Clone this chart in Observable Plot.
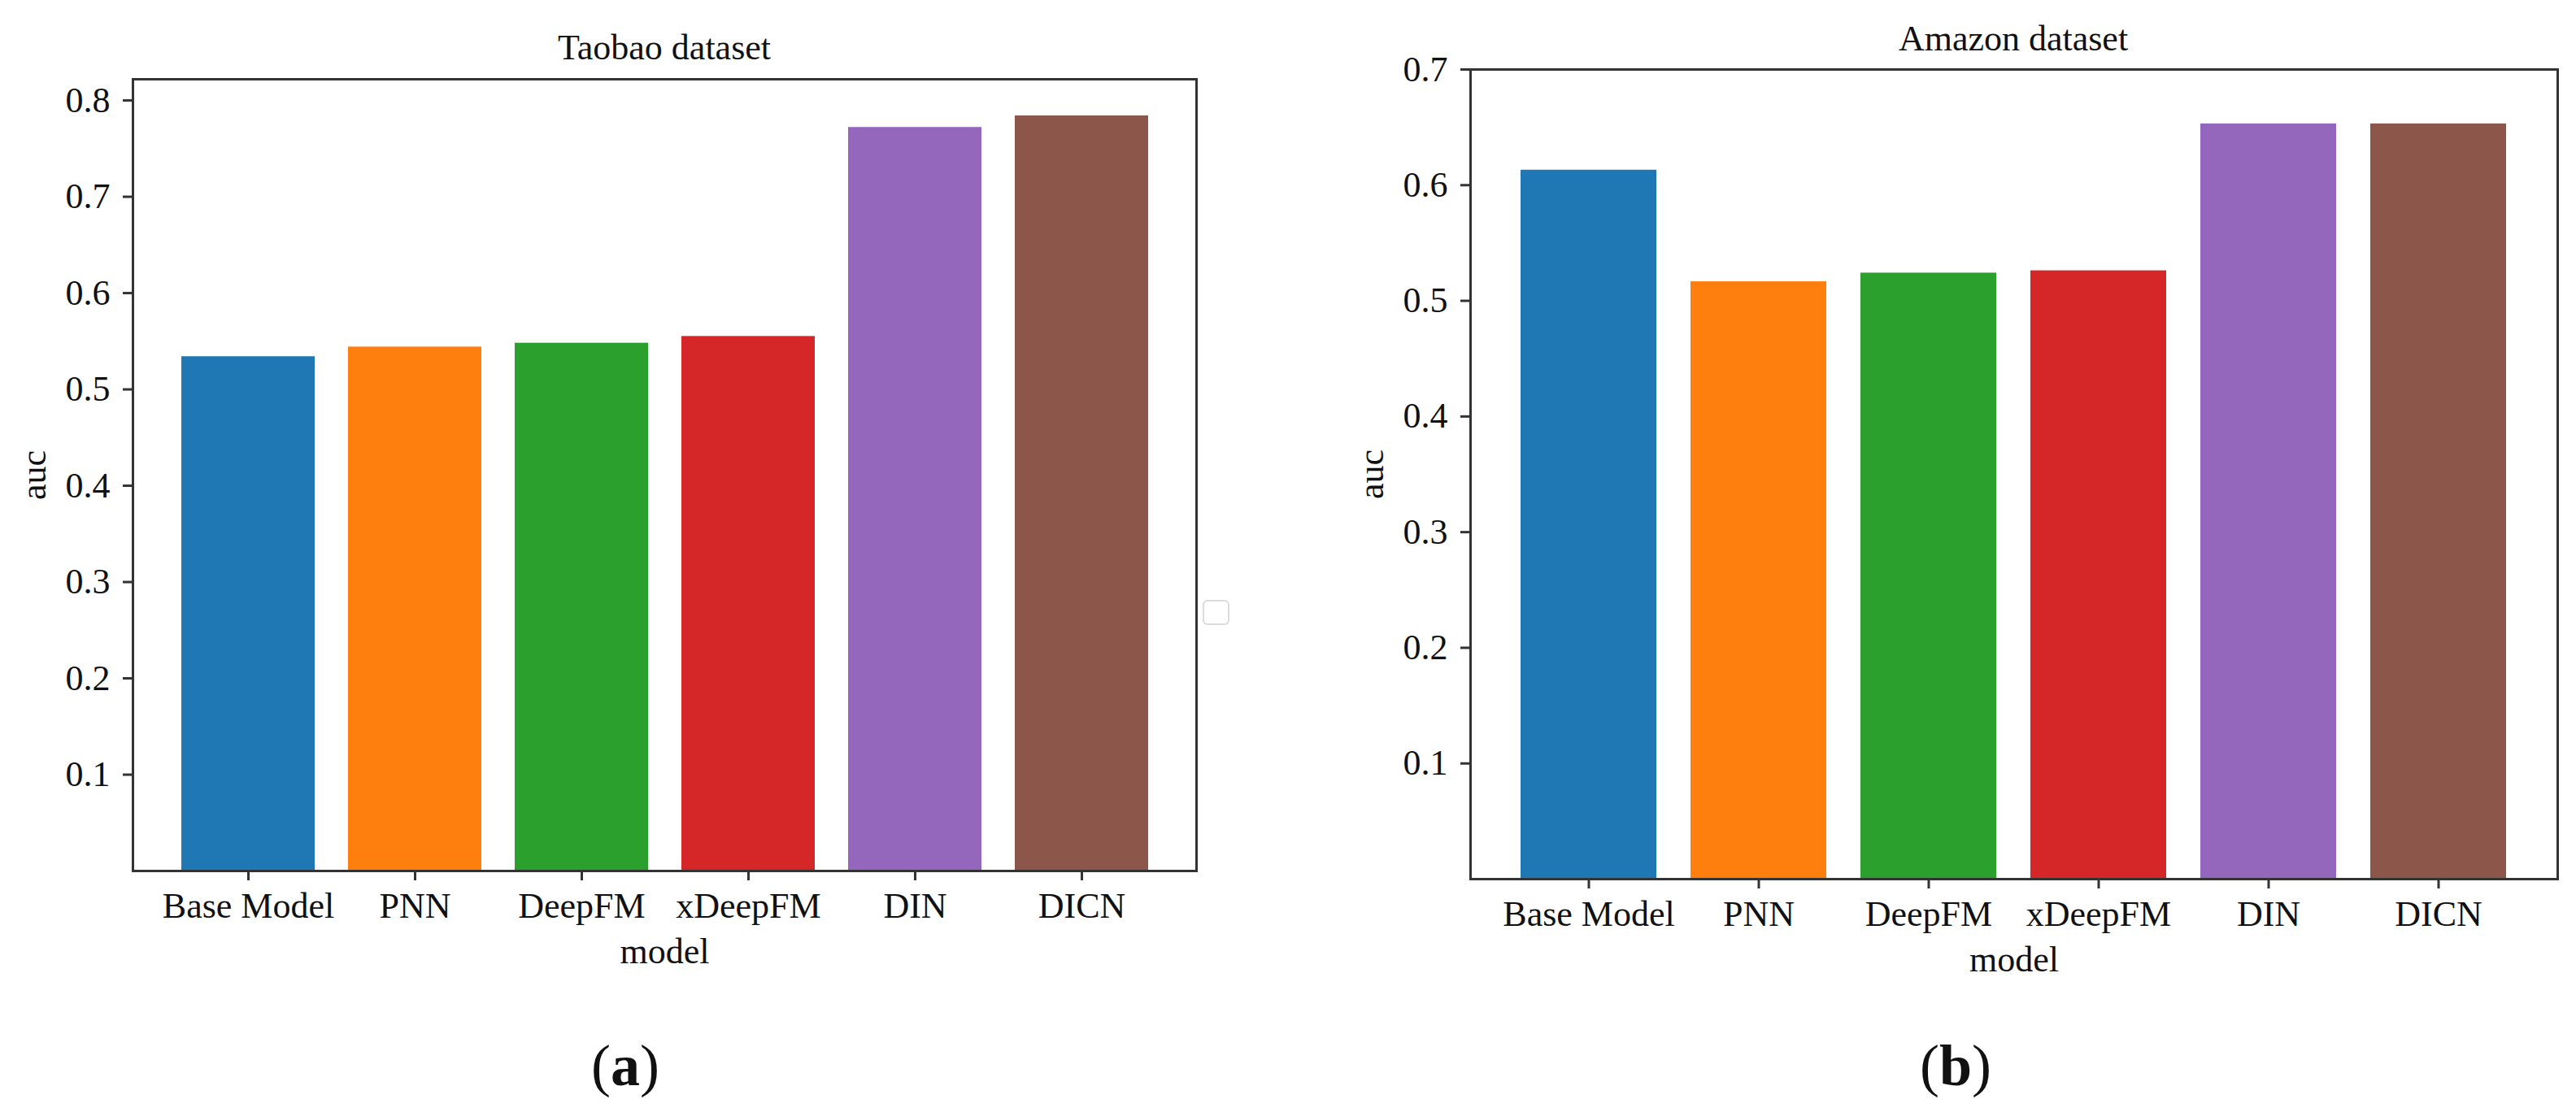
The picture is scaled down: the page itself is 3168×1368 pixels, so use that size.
<!DOCTYPE html>
<html>
<head>
<meta charset="utf-8">
<script src="https://cdn.jsdelivr.net/npm/d3@7"></script>
<script src="https://cdn.jsdelivr.net/npm/@observablehq/plot@0.6"></script>
<style>
  html, body { margin: 0; padding: 0; background: #fff; }
  #page { position: relative; width: 3168px; height: 1368px; overflow: hidden; background: #fff; font-family: "Liberation Serif", "DejaVu Serif", serif; color: #111; }
  .chart { position: absolute; top: 0; }
  .title { position: absolute; font-size: 44px; line-height: 44px; white-space: nowrap; transform: translateX(-50%); }
  .cap { position: absolute; font-size: 72px; line-height: 72px; white-space: nowrap; transform: translateX(-50%); }
  .cap b { font-weight: bold; }
  #legendbox { position: absolute; left: 1479px; top: 738px; width: 29px; height: 27px; border: 2px solid #dcdcdc; border-radius: 6px; background: #fff; }
</style>
</head>
<body>
<div id="page">
  <div id="left" class="chart" style="left:0px"></div>
  <div id="right" class="chart" style="left:1600px"></div>
  <div class="title" style="left:817px; top:37px">Taobao dataset</div>
  <div class="title" style="left:2476px; top:26px">Amazon dataset</div>
  <div class="cap" style="left:769px; top:1275px">(<b>a</b>)</div>
  <div class="cap" style="left:2405px; top:1275px">(<b>b</b>)</div>
  <div id="legendbox"></div>
</div>
<script>
const models = ["Base Model", "PNN", "DeepFM", "xDeepFM", "DIN", "DICN"];
const colors = ["#1f77b4", "#ff7f0e", "#2ca02c", "#d62728", "#9467bd", "#8c564b"];
const taobaoAuc = [0.534, 0.544, 0.548, 0.555, 0.772, 0.784];
const amazonAuc = [0.613, 0.5165, 0.524, 0.526, 0.653, 0.653];
const taobaoTicks = [0.1, 0.2, 0.3, 0.4, 0.5, 0.6, 0.7, 0.8];
const amazonTicks = [0.1, 0.2, 0.3, 0.4, 0.5, 0.6, 0.7];

function makeChart(values, ticks, yDomain, dims) {
  const data = models.map((m, i) => ({model: m, auc: values[i]}));
  return Plot.plot({
    width: dims.width,
    height: dims.height,
    marginLeft: dims.ml,
    marginRight: dims.mr,
    marginTop: dims.mt,
    marginBottom: dims.mb,
    style: {fontFamily: "Liberation Serif, DejaVu Serif, serif", fontSize: "44px", color: "#111", background: "#fff"},
    x: {domain: models, padding: 0.2, paddingOuter: 0.29, align: 0.5, label: null},
    y: {domain: yDomain, label: null},
    color: {domain: models, range: colors},
    marks: [
      Plot.barY(data, {x: "model", y: "auc", fill: "model"}),
      Plot.frame({stroke: "#333", strokeWidth: 3}),
      Plot.axisY({ticks: ticks, tickFormat: d3.format(".1f"), tickSize: 12, tickPadding: 16, strokeWidth: 3, stroke: "#333",
        label: "auc", labelAnchor: "center", labelOffset: 139, labelArrow: "none", fontSize: 44}),
      Plot.axisX({tickSize: 12, tickPadding: 14, strokeWidth: 3, stroke: "#333",
        label: "model", labelAnchor: "center", labelOffset: 113, labelArrow: "none", fontSize: 44})
    ]
  });
}

document.getElementById("left").appendChild(
  makeChart(taobaoAuc, taobaoTicks, [0, 0.822], {width: 1600, height: 1230, ml: 163, mr: 129, mt: 97, mb: 159})
);
document.getElementById("right").appendChild(
  makeChart(amazonAuc, amazonTicks, [0, 0.7], {width: 1568, height: 1230, ml: 208, mr: 23, mt: 85, mb: 149})
);
</script>
</body>
</html>
